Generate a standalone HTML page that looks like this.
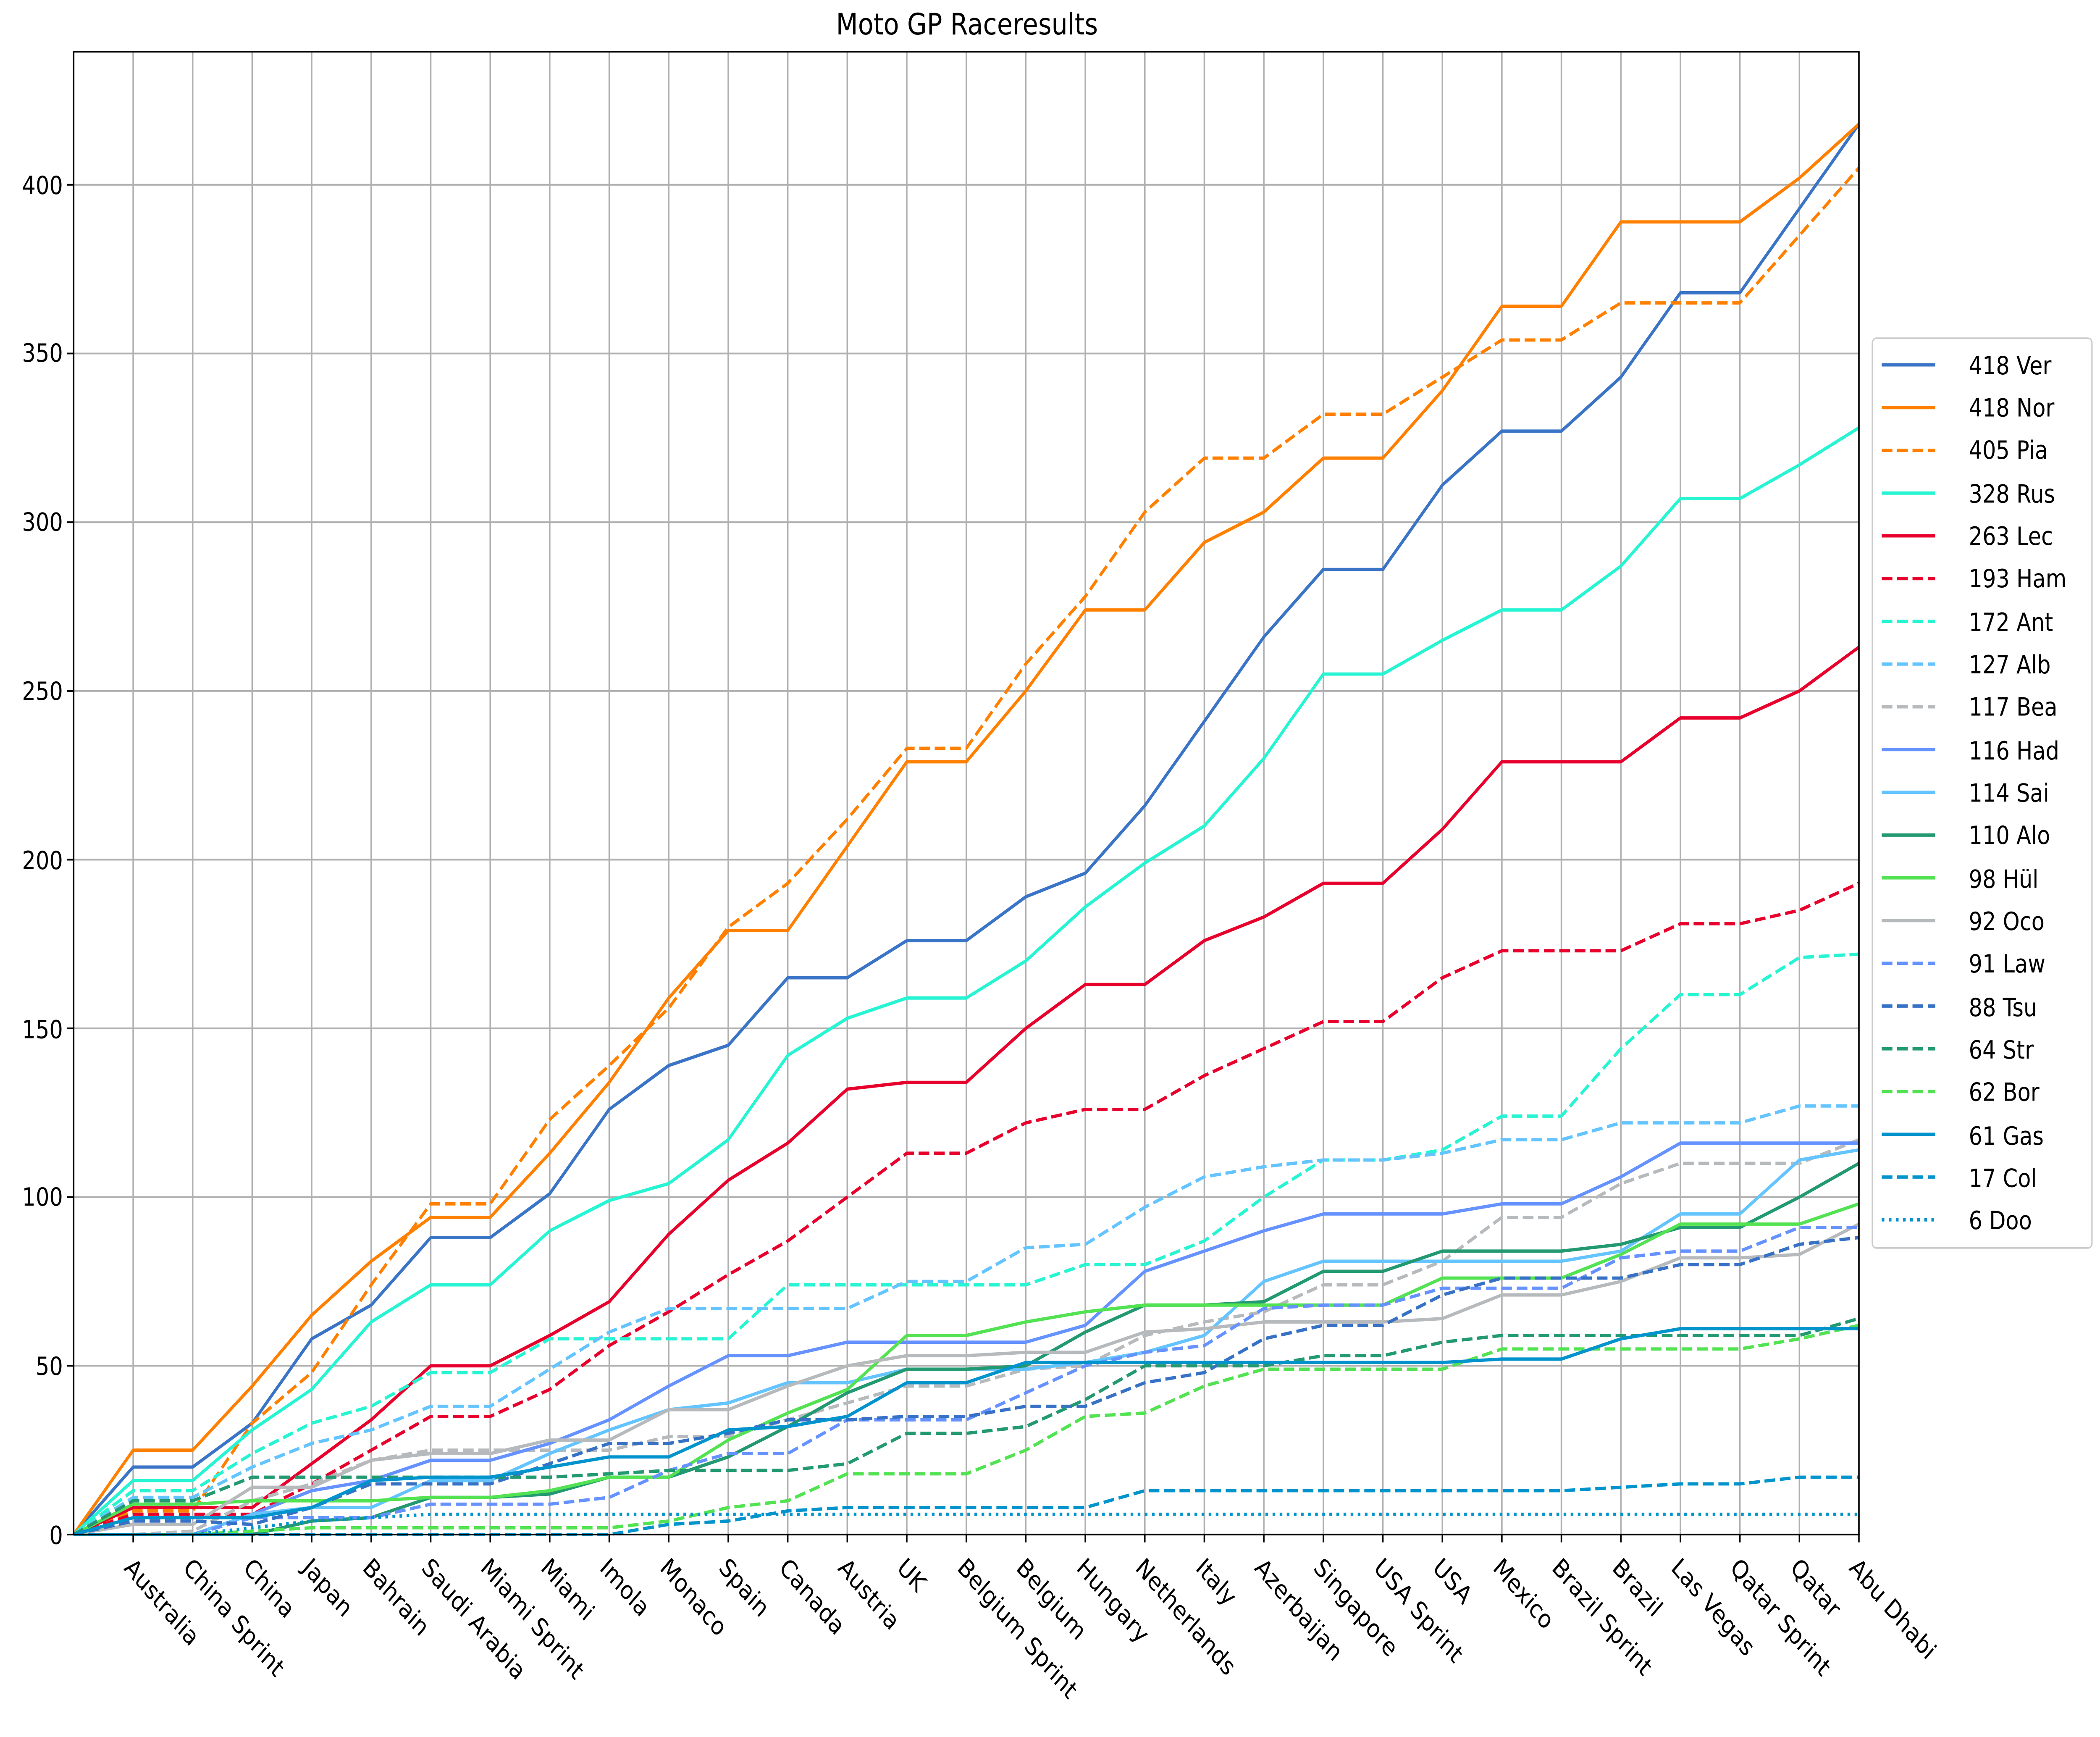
<!DOCTYPE html>
<html><head><meta charset="utf-8"><meta name="viewport" content="width=5845, initial-scale=1">
<style>
html,body{margin:0;padding:0;background:#fff;overflow:hidden;width:100vw;height:100vh;}
svg{display:block;width:100vw;height:100vh;}
text{font-family:"DejaVu Sans","Liberation Sans",sans-serif;fill:#000;}
</style></head><body>
<svg id="s" xmlns="http://www.w3.org/2000/svg" viewBox="0 0 1568 1109.3" preserveAspectRatio="none">
<rect x="0" y="0" width="1568" height="1110" fill="#fff"/>
<g id="grid" stroke="#b0b0b0" stroke-width="1.1"></g>
<g id="lines" fill="none" stroke-width="2.1" stroke-linejoin="round"></g>
<rect x="55" y="33" width="1333" height="947" fill="none" stroke="#000" stroke-width="1.1"/>
<g id="ticks" stroke="#000" stroke-width="1.1"></g>
<text x="722" y="22" font-size="19" text-anchor="middle">Moto GP Raceresults</text>
<g font-size="16" text-anchor="end">
<text x="47" y="986">0</text><text x="47" y="878">50</text><text x="47" y="770">100</text>
<text x="47" y="663">150</text><text x="47" y="555">200</text><text x="47" y="447">250</text>
<text x="47" y="339">300</text><text x="47" y="231">350</text><text x="47" y="124">400</text>
</g>
<g font-size="16" id="xl">
<text transform="translate(92,1002) rotate(45)">Australia</text>
<text transform="translate(136,1002) rotate(45)">China Sprint</text>
<text transform="translate(181,1002) rotate(45)">China</text>
<text transform="translate(225,1002) rotate(45)">Japan</text>
<text transform="translate(270,1002) rotate(45)">Bahrain</text>
<text transform="translate(314,1002) rotate(45)">Saudi Arabia</text>
<text transform="translate(358,1002) rotate(45)">Miami Sprint</text>
<text transform="translate(403,1002) rotate(45)">Miami</text>
<text transform="translate(447,1002) rotate(45)">Imola</text>
<text transform="translate(492,1002) rotate(45)">Monaco</text>
<text transform="translate(536,1002) rotate(45)">Spain</text>
<text transform="translate(581,1002) rotate(45)">Canada</text>
<text transform="translate(625,1002) rotate(45)">Austria</text>
<text transform="translate(669,1002) rotate(45)">UK</text>
<text transform="translate(714,1002) rotate(45)">Belgium Sprint</text>
<text transform="translate(758,1002) rotate(45)">Belgium</text>
<text transform="translate(803,1002) rotate(45)">Hungary</text>
<text transform="translate(847,1002) rotate(45)">Netherlands</text>
<text transform="translate(892,1002) rotate(45)">Italy</text>
<text transform="translate(936,1002) rotate(45)">Azerbaijan</text>
<text transform="translate(980,1002) rotate(45)">Singapore</text>
<text transform="translate(1025,1002) rotate(45)">USA Sprint</text>
<text transform="translate(1069,1002) rotate(45)">USA</text>
<text transform="translate(1114,1002) rotate(45)">Mexico</text>
<text transform="translate(1158,1002) rotate(45)">Brazil Sprint</text>
<text transform="translate(1203,1002) rotate(45)">Brazil</text>
<text transform="translate(1247,1002) rotate(45)">Las Vegas</text>
<text transform="translate(1291,1002) rotate(45)">Qatar Sprint</text>
<text transform="translate(1336,1002) rotate(45)">Qatar</text>
<text transform="translate(1380,1002) rotate(45)">Abu Dhabi</text>
</g>
<rect x="1398" y="216" width="164" height="581" rx="3" fill="#fff" fill-opacity="0.8" stroke="#ccc" stroke-width="1"/>
<g id="leg" fill="none" stroke-width="2.1"></g>
<g font-size="16" xml:space="preserve">
<text x="1470" y="239">418 Ver</text>
<text x="1470" y="266">418 Nor</text>
<text x="1470" y="293">405 Pia</text>
<text x="1470" y="321">328 Rus</text>
<text x="1470" y="348">263 Lec</text>
<text x="1470" y="375">193 Ham</text>
<text x="1470" y="403">172 Ant</text>
<text x="1470" y="430">127 Alb</text>
<text x="1470" y="457">117 Bea</text>
<text x="1470" y="485">116 Had</text>
<text x="1470" y="512">114 Sai</text>
<text x="1470" y="539">110 Alo</text>
<text x="1470" y="567"> 98 Hül</text>
<text x="1470" y="594"> 92 Oco</text>
<text x="1470" y="621"> 91 Law</text>
<text x="1470" y="649"> 88 Tsu</text>
<text x="1470" y="676"> 64 Str</text>
<text x="1470" y="703"> 62 Bor</text>
<text x="1470" y="731"> 61 Gas</text>
<text x="1470" y="758"> 17 Col</text>
<text x="1470" y="785">  6 Doo</text>
</g>
</svg>
<script>
var NS="http://www.w3.org/2000/svg";
function el(p,t,a){var e=document.createElementNS(NS,t);for(var k in a)e.setAttribute(k,a[k]);p.appendChild(e);return e;}
var X0=55,DX=1333/30,Y0=980,SY=2.155;
var g=document.getElementById("grid"),tk=document.getElementById("ticks");
for(var i=1;i<=30;i++){var x=X0+i*DX;el(g,"line",{x1:x,x2:x,y1:33,y2:980});el(tk,"line",{x1:x,x2:x,y1:980,y2:985});}
for(var v=0;v<=400;v+=50){var y=Y0-v*SY;el(g,"line",{x1:55,x2:1388,y1:y,y2:y});el(tk,"line",{x1:50,x2:55,y1:y,y2:y});}
var D="8 3.5",P="2 3.3";
var S=[
["#3a74c6","",[20,20,33,58,68,88,88,101,126,139,145,165,165,176,176,189,196,216,241,266,286,286,311,327,327,343,368,368,393,418]],
["#ff8000","",[25,25,44,65,81,94,94,113,134,159,179,179,204,229,229,250,274,274,294,303,319,319,339,364,364,389,389,389,402,418]],
["#ff8000",D,[7,7,33,48,74,98,98,123,139,156,180,193,212,233,233,258,278,303,319,319,332,332,343,354,354,365,365,365,385,405]],
["#27f4d2","",[16,16,31,43,63,74,74,90,99,104,117,142,153,159,159,170,186,199,210,230,255,255,265,274,274,287,307,307,317,328]],
["#e8002d","",[8,8,8,21,34,50,50,59,69,89,105,116,132,134,134,150,163,163,176,183,193,193,209,229,229,229,242,242,250,263]],
["#e8002d",D,[6,6,6,15,25,35,35,43,56,66,77,87,100,113,113,122,126,126,136,144,152,152,165,173,173,173,181,181,185,193]],
["#27f4d2",D,[13,13,24,33,38,48,48,58,58,58,58,74,74,74,74,74,80,80,87,100,111,111,114,124,124,144,160,160,171,172]],
["#64c4ff",D,[11,11,20,27,31,38,38,49,60,67,67,67,67,75,75,85,86,97,106,109,111,111,113,117,117,122,122,122,127,127]],
["#b6babd",D,[0,1,10,15,22,25,25,25,25,29,29,34,39,44,44,49,50,59,63,66,74,74,81,94,94,104,110,110,110,117]],
["#6692ff","",[0,0,6,13,16,22,22,27,34,44,53,53,57,57,57,57,62,78,84,90,95,95,95,98,98,106,116,116,116,116]],
["#64c4ff","",[0,0,6,8,8,16,16,24,31,37,39,45,45,49,49,49,51,54,59,75,81,81,81,81,81,84,95,95,111,114]],
["#229971","",[0,0,0,4,5,11,11,12,17,17,23,32,42,49,49,50,60,68,68,69,78,78,84,84,84,86,91,91,100,110]],
["#52e252","",[9,9,10,10,10,11,11,13,17,17,28,36,43,59,59,63,66,68,68,68,68,68,76,76,76,83,92,92,92,98]],
["#b6babd","",[3,3,14,14,22,24,24,28,28,37,37,44,50,53,53,54,54,60,61,63,63,63,64,71,71,75,82,82,83,92]],
["#6692ff",D,[0,0,5,5,5,9,9,9,11,19,24,24,34,34,34,42,50,54,56,67,68,68,73,73,73,82,84,84,91,91]],
["#3671c6",D,[4,4,3,8,15,15,15,21,27,27,30,34,34,35,35,38,38,45,48,58,62,62,71,76,76,76,80,80,86,88]],
["#229971",D,[10,10,17,17,17,17,17,17,18,19,19,19,21,30,30,32,40,50,50,50,53,53,57,59,59,59,59,59,59,64]],
["#52e252",D,[0,0,1,2,2,2,2,2,2,4,8,10,18,18,18,25,35,36,44,49,49,49,49,55,55,55,55,55,58,62]],
["#0093cc","",[5,5,5,8,16,17,17,20,23,23,31,32,35,45,45,51,51,51,51,51,51,51,51,52,52,58,61,61,61,61]],
["#0093cc",D,[0,0,0,0,0,0,0,0,0,3,4,7,8,8,8,8,8,13,13,13,13,13,13,13,13,14,15,15,17,17]],
["#0093cc",P,[0,0,2,4,5,6,6,6,6,6,6,6,6,6,6,6,6,6,6,6,6,6,6,6,6,6,6,6,6,6]]
];
var L=document.getElementById("lines"),LG=document.getElementById("leg");
S.forEach(function(s,k){
 var pts=[X0+","+Y0];
 s[2].forEach(function(v,i){pts.push((X0+(i+1)*DX).toFixed(2)+","+(Y0-v*SY).toFixed(2));});
 var a={points:pts.join(" "),stroke:s[0]};if(s[1])a["stroke-dasharray"]=s[1];
 el(L,"polyline",a);
 var y=233+k*27.3;var b={x1:1405,x2:1445,y1:y,y2:y,stroke:s[0]};if(s[1])b["stroke-dasharray"]=s[1];
 el(LG,"line",b);
});
</script>
</body></html>
